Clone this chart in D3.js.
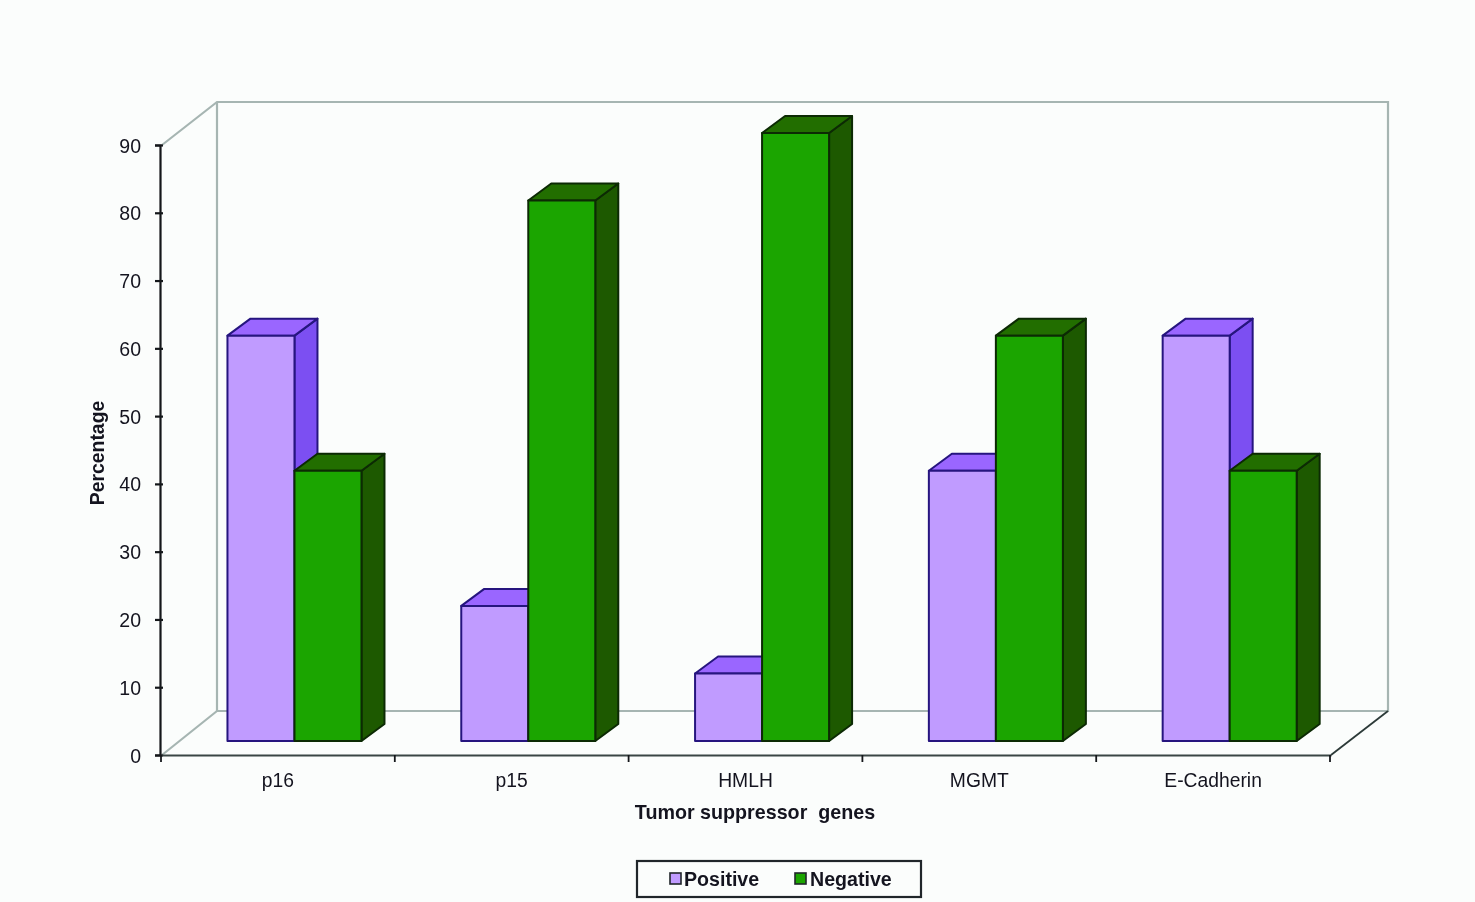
<!DOCTYPE html>
<html>
<head>
<meta charset="utf-8">
<script src="https://cdn.jsdelivr.net/npm/d3@7"></script>
<style>
  html, body { margin: 0; padding: 0; background: #fbfdfc; overflow: hidden; }
  svg { display: block; filter: blur(0.5px); }
  text { font-family: "Liberation Sans", Arial, sans-serif; fill: #14141f; }
</style>
</head>
<body>
<div id="chart"></div>
<script>
// values
const genes = ['p16', 'p15', 'HMLH', 'MGMT', 'E-Cadherin'];
const seriesNames = ['Positive', 'Negative'];
const positive = [60, 20, 10, 40, 60];
const negative = [40, 80, 90, 60, 40];
const yTicks = [0, 10, 20, 30, 40, 50, 60, 70, 80, 90];

const colors = {
  Positive: { front: '#c09bff', top: '#9a66ff', side: '#7c4ff2', line: '#26157f' },
  Negative: { front: '#1ba500', top: '#226e00', side: '#1d5900', line: '#0c2a04' }
};

const svg = d3.select('#chart').append('svg')
  .attr('width', 1475)
  .attr('height', 902);

// axis scales sit on the front edge of the floor
const x = d3.scaleBand().domain(genes).range([162, 1331]);
const y = d3.scaleLinear().domain([0, 90]).range([755, 145]);
// bars stand a bit further back than the axis
const yBar = d3.scaleLinear().domain([0, 90]).range([741, 133]);

const depthX = 55, depthY = 44;   // walls
const barDX = 23, barDY = 17;     // bar sides
const barW = x.bandwidth() * 0.2866;
const barOffset = x.bandwidth() * 0.28;

// walls and floor
const wallColor = '#a6b5b2';
const x0 = x.range()[0], x1 = x.range()[1];
const yB = y(0), yT = y(90);
const wall = svg.append('g').attr('fill', 'none').attr('stroke', wallColor).attr('stroke-width', 2.2);
wall.append('path').attr('d', `M${x0},${yT}L${x0 + depthX},${yT - depthY + 1}H${x1 + depthX + 2}V${yB - depthY}H${x0 + depthX}V${yT - depthY + 1}`);
wall.append('path').attr('d', `M${x0},${yB}L${x0 + depthX},${yB - depthY}`);
svg.append('path')
  .attr('d', `M${x1},${yB}L${x1 + depthX + 2},${yB - depthY}`)
  .attr('fill', 'none').attr('stroke', '#2c3a38').attr('stroke-width', 1.8);

// bars
const rows = genes.flatMap((g, i) => [
  { gene: g, series: 'Positive', slot: 0, value: positive[i] },
  { gene: g, series: 'Negative', slot: 1, value: negative[i] }
]);

const bars = svg.append('g').selectAll('g')
  .data(rows)
  .join('g')
  .attr('stroke-width', 2)
  .attr('stroke-linejoin', 'round')
  .attr('stroke', d => colors[d.series].line);

const left = d => x(d.gene) + barOffset + d.slot * barW;

bars.append('path') // side
  .attr('fill', d => colors[d.series].side)
  .attr('d', d => `M${left(d) + barW},${yBar(d.value)}l${barDX},${-barDY}V${yBar(0) - barDY}l${-barDX},${barDY}Z`);
bars.append('path') // top
  .attr('fill', d => colors[d.series].top)
  .attr('d', d => `M${left(d)},${yBar(d.value)}l${barDX},${-barDY}h${barW}l${-barDX},${barDY}Z`);
bars.append('rect') // front
  .attr('fill', d => colors[d.series].front)
  .attr('x', left)
  .attr('y', d => yBar(d.value))
  .attr('width', barW)
  .attr('height', d => yBar(0) - yBar(d.value));

// y axis, ticks cross the line
const yAxis = svg.append('g')
  .attr('transform', `translate(${x0 - 2},0)`)
  .call(d3.axisLeft(y).tickValues(yTicks).tickSize(5).tickPadding(14).tickFormat(d3.format('d')));
yAxis.selectAll('text').style('font-size', '19.5px').attr('dy', '0.36em');
yAxis.selectAll('path, line').attr('stroke', '#14171a').attr('stroke-width', 2.2);
yAxis.selectAll('.tick line').attr('x2', -5).clone().attr('x2', 3);

// x axis: labels in the middle of each band, ticks on the band edges
const xAxis = svg.append('g')
  .attr('transform', `translate(-1,${yB})`)
  .call(d3.axisBottom(x).tickSize(0).tickPadding(18));
xAxis.selectAll('text').style('font-size', '19.3px');
xAxis.select('.domain').attr('stroke', '#3a4644').attr('stroke-width', 2.2).attr('transform', 'translate(1,0)');

svg.append('g').selectAll('line')
  .data(genes.concat(['end']))
  .join('line')
  .attr('x1', (d, i) => x0 + i * x.step() - 1)
  .attr('x2', (d, i) => x0 + i * x.step() - 1)
  .attr('y1', yB)
  .attr('y2', yB + 7)
  .attr('stroke', '#14171a')
  .attr('stroke-width', 1.8);

// axis titles
svg.append('text')
  .attr('x', 755).attr('y', 819)
  .attr('text-anchor', 'middle')
  .style('font-size', '19.7px').style('font-weight', 'bold').style('white-space', 'pre')
  .text('Tumor suppressor  genes');

svg.append('text')
  .attr('transform', 'translate(104,453) rotate(-90)')
  .attr('text-anchor', 'middle')
  .style('font-size', '19.4px').style('font-weight', 'bold')
  .text('Percentage');

// legend
svg.append('rect')
  .attr('x', 637).attr('y', 861).attr('width', 284).attr('height', 36)
  .attr('fill', '#fbfdfc').attr('stroke', '#20262a').attr('stroke-width', 2.2);

const legend = svg.append('g').selectAll('g')
  .data(seriesNames)
  .join('g')
  .attr('transform', (d, i) => `translate(${i ? 795 : 670},0)`);
legend.append('rect')
  .attr('y', 873).attr('width', 11).attr('height', 11)
  .attr('fill', d => colors[d].front)
  .attr('stroke', '#20262a').attr('stroke-width', 1.6);
legend.append('text')
  .attr('x', d => d === 'Positive' ? 14 : 15).attr('y', 885.5)
  .style('font-size', '19.6px').style('font-weight', 'bold')
  .text(d => d);
</script>
</body>
</html>
